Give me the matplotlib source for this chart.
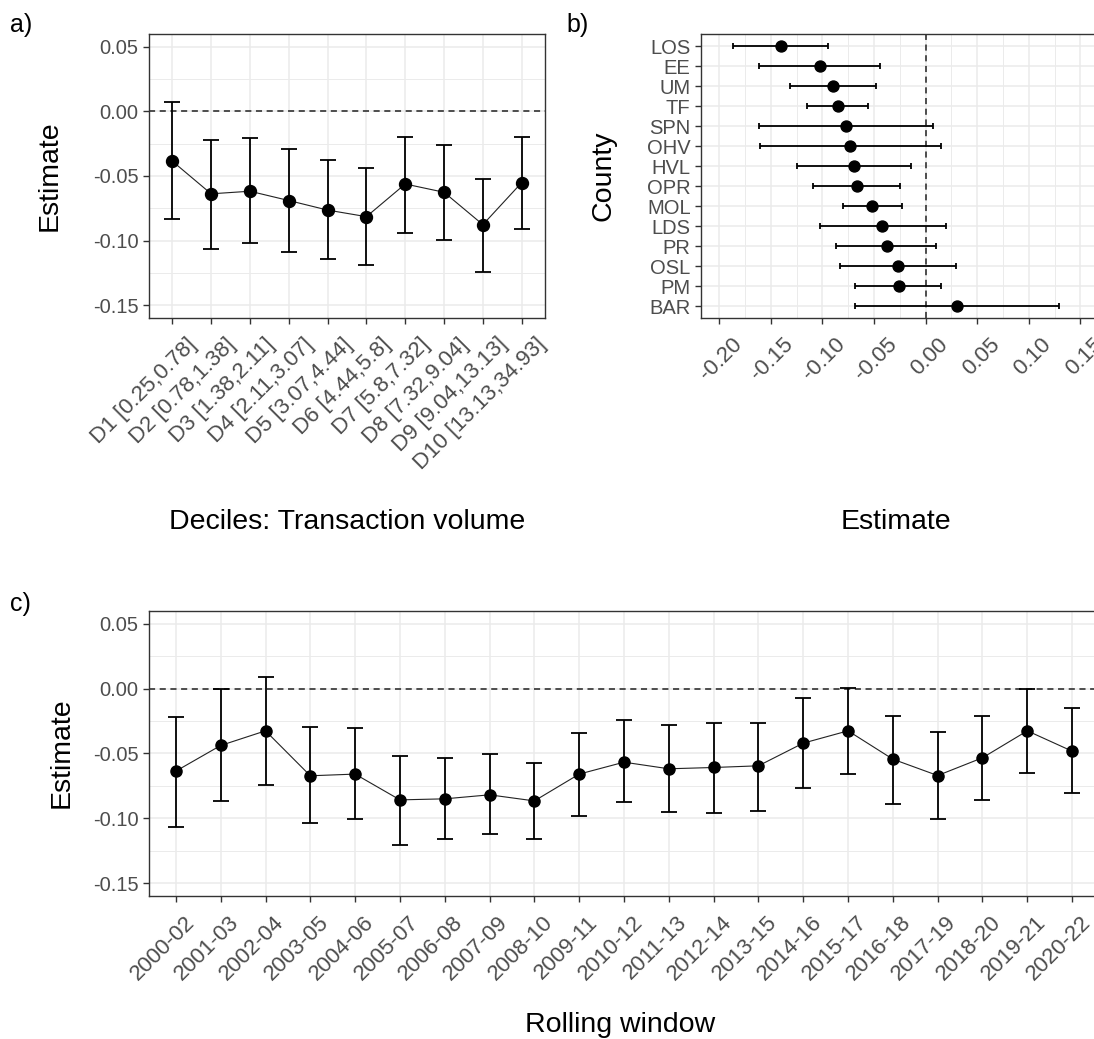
import numpy as np
import matplotlib
matplotlib.use("Agg")
import matplotlib.pyplot as plt
from matplotlib.transforms import ScaledTranslation

plt.rcParams['font.family'] = ['Liberation Sans', 'DejaVu Sans']

# --- panel a: deciles of transaction volume ---
deciles = ["D1 [0.25,0.78]", "D2 [0.78,1.38]", "D3 [1.38,2.11]", "D4 [2.11,3.07]",
           "D5 [3.07,4.44]", "D6 [4.44,5.8]", "D7 [5.8,7.32]", "D8 [7.32,9.04]",
           "D9 [9.04,13.13]", "D10 [13.13,34.93]"]
dec_est = [-0.0385, -0.0638, -0.0618, -0.0690, -0.0764, -0.0815, -0.0562, -0.0626, -0.0877, -0.0551]
dec_lo = [-0.0836, -0.1064, -0.1021, -0.1085, -0.1146, -0.1190, -0.0938, -0.0992, -0.1240, -0.0908]
dec_hi = [0.0072, -0.0218, -0.0208, -0.0290, -0.0374, -0.0436, -0.0197, -0.0259, -0.0520, -0.0197]

# --- panel b: counties ---
counties = ["LOS", "EE", "UM", "TF", "SPN", "OHV", "HVL", "OPR", "MOL", "LDS", "PR", "OSL", "PM", "BAR"]
cty_est = [-0.1405, -0.1024, -0.0901, -0.0853, -0.0775, -0.0733, -0.0694, -0.0669, -0.0523,
           -0.0420, -0.0378, -0.0271, -0.0258, 0.0300]
cty_lo = [-0.1867, -0.1615, -0.1315, -0.1153, -0.1612, -0.1602, -0.1247, -0.1088, -0.0798,
          -0.1024, -0.0866, -0.0827, -0.0682, -0.0682]
cty_hi = [-0.0943, -0.0443, -0.0485, -0.0562, 0.0068, 0.0145, -0.0142, -0.0249, -0.0233,
          0.0200, 0.0097, 0.0291, 0.0145, 0.1292]

# --- panel c: rolling windows ---
windows = ["2000-02", "2001-03", "2002-04", "2003-05", "2004-06", "2005-07", "2006-08",
           "2007-09", "2008-10", "2009-11", "2010-12", "2011-13", "2012-14", "2013-15",
           "2014-16", "2015-17", "2016-18", "2017-19", "2018-20", "2019-21", "2020-22"]
win_est = [-0.0636, -0.0438, -0.0325, -0.0672, -0.0659, -0.0858, -0.0850, -0.0819, -0.0866,
           -0.0659, -0.0567, -0.0618, -0.0608, -0.0595, -0.0420, -0.0325, -0.0544, -0.0670,
           -0.0533, -0.0325, -0.0482]
win_lo = [-0.1069, -0.0868, -0.0742, -0.1036, -0.1005, -0.1206, -0.1162, -0.1121, -0.1162,
          -0.0984, -0.0878, -0.0953, -0.0963, -0.0943, -0.0765, -0.0659, -0.0889, -0.1005,
          -0.0858, -0.0649, -0.0804]
win_hi = [-0.0219, -0.0005, 0.0093, -0.0294, -0.0301, -0.0523, -0.0533, -0.0502, -0.0574,
          -0.0345, -0.0240, -0.0283, -0.0263, -0.0263, -0.0075, 0.0008, -0.0211, -0.0335,
          -0.0211, 0.0000, -0.0147]

W, H = 1094, 1039
DPI = 100
TICK_FS = 14.5
ROT_FS = 16
TITLE_FS = 20.5
GRID = "#EBEBEB"
BORDER = "#333333"
TICK_COL = "#4D4D4D"

fig = plt.figure(figsize=(W / DPI, H / DPI), dpi=DPI)


def px_axes(l, t, r, b):
    return fig.add_axes([l / W, 1 - b / H, (r - l) / W, (b - t) / H])


def style(ax):
    ax.set_axisbelow(True)
    for s in ax.spines.values():
        s.set_color(BORDER)
        s.set_linewidth(1.0)
    ax.tick_params(which="major", length=4.5, width=1.0, color=BORDER,
                   labelcolor=TICK_COL, labelsize=TICK_FS, pad=3)
    ax.tick_params(which="minor", length=0)
    ax.grid(True, which="major", color=GRID, lw=1.1)
    ax.grid(True, which="minor", color=GRID, lw=0.7)


def shift_labels(labels, dx_px, dy_px=0):
    # ggplot-like angle=45 labels: right/top justified, nudged right
    for lab in labels:
        lab.set_rotation(45)
        lab.set_rotation_mode("anchor")
        lab.set_ha("right")
        lab.set_va("top")
        lab.set_fontsize(ROT_FS)
        lab.set_transform(lab.get_transform() + ScaledTranslation(dx_px / DPI, dy_px / DPI, fig.dpi_scale_trans))


def pt_panel(ax, est, lo, hi, capsize, ms):
    x = np.arange(len(est))
    est = np.asarray(est)
    err = [est - np.asarray(lo), np.asarray(hi) - est]
    ax.errorbar(x, est, yerr=err, fmt="none", ecolor="black", elinewidth=1.3,
                capsize=capsize, capthick=1.3, zorder=3)
    ax.plot(x, est, color="#222222", lw=0.8, zorder=3)
    ax.plot(x, est, "o", color="black", ms=ms, zorder=4)
    ax.axhline(0, color="#222222", ls=(0, (4, 3)), lw=1.1, zorder=2)
    ax.set_ylim(-0.16, 0.06)
    ax.set_yticks([-0.15, -0.10, -0.05, 0.00, 0.05])
    ax.set_yticklabels(["-0.15", "-0.10", "-0.05", "0.00", "0.05"])
    ax.set_yticks([-0.125, -0.075, -0.025, 0.025], minor=True)
    ax.set_xlim(-0.6, len(est) - 0.4)
    ax.set_xticks(x)


# panel a
axa = px_axes(149, 34, 545, 318)
pt_panel(axa, dec_est, dec_lo, dec_hi, capsize=6, ms=8.6)
style(axa)
axa.set_xticklabels(deciles)
axa.tick_params(axis="x", pad=7)
shift_labels(axa.get_xticklabels(), 14)
axa.set_xlabel("Deciles: Transaction volume", fontsize=TITLE_FS)
axa.xaxis.set_label_coords(347 / W, 1 - 522 / H, transform=fig.transFigure)
axa.set_ylabel("Estimate", fontsize=TITLE_FS)
axa.yaxis.set_label_coords(50 / W, 1 - 176 / H, transform=fig.transFigure)
axa.xaxis.label.set_va("center")
axa.yaxis.label.set_va("center")

# panel b
axb = px_axes(701, 34, 1100, 318)
yb = np.arange(len(counties))
cest = np.asarray(cty_est)
axb.errorbar(cest, yb, xerr=[cest - np.asarray(cty_lo), np.asarray(cty_hi) - cest], fmt="none",
             ecolor="black", elinewidth=1.3, capsize=2.5, capthick=1.3, zorder=3)
axb.plot(cest, yb, "o", color="black", ms=7.9, zorder=4)
axb.axvline(0, color="#222222", ls=(0, (4, 3)), lw=1.1, zorder=2)
axb.set_ylim(len(counties) - 0.4, -0.6)
axb.set_yticks(yb)
axb.set_yticklabels(counties)
axb.set_xlim(-0.2177, 0.1689)
xt = [-0.20, -0.15, -0.10, -0.05, 0.00, 0.05, 0.10, 0.15]
axb.set_xticks(xt)
axb.set_xticklabels(["%.2f" % v for v in xt])
axb.set_xticks([-0.175, -0.125, -0.075, -0.025, 0.025, 0.075, 0.125], minor=True)
style(axb)
axb.tick_params(axis="x", pad=7)
shift_labels(axb.get_xticklabels(), 12)
axb.set_xlabel("Estimate", fontsize=TITLE_FS)
axb.xaxis.set_label_coords(896 / W, 1 - 522 / H, transform=fig.transFigure)
axb.set_ylabel("County", fontsize=TITLE_FS)
axb.yaxis.set_label_coords(603 / W, 1 - 176 / H, transform=fig.transFigure)
axb.xaxis.label.set_va("center")
axb.yaxis.label.set_va("center")

# panel c
axc = px_axes(149, 611, 1099, 896)
pt_panel(axc, win_est, win_lo, win_hi, capsize=6, ms=8.0)
style(axc)
axc.set_xticklabels(windows)
axc.tick_params(axis="x", pad=7)
shift_labels(axc.get_xticklabels(), 8)
axc.set_xlabel("Rolling window", fontsize=TITLE_FS)
axc.xaxis.set_label_coords(620 / W, 1 - 1025 / H, transform=fig.transFigure)
axc.set_ylabel("Estimate", fontsize=TITLE_FS)
axc.yaxis.set_label_coords(62 / W, 1 - 753 / H, transform=fig.transFigure)
axc.xaxis.label.set_va("center")
axc.yaxis.label.set_va("center")

# panel tags
for tag, x, y in [("a)", 10, 25), ("b)", 566, 25), ("c)", 10, 604)]:
    fig.text(x / W, 1 - y / H, tag, fontsize=18, ha="left", va="center")

fig.savefig("out.png", dpi=DPI)
